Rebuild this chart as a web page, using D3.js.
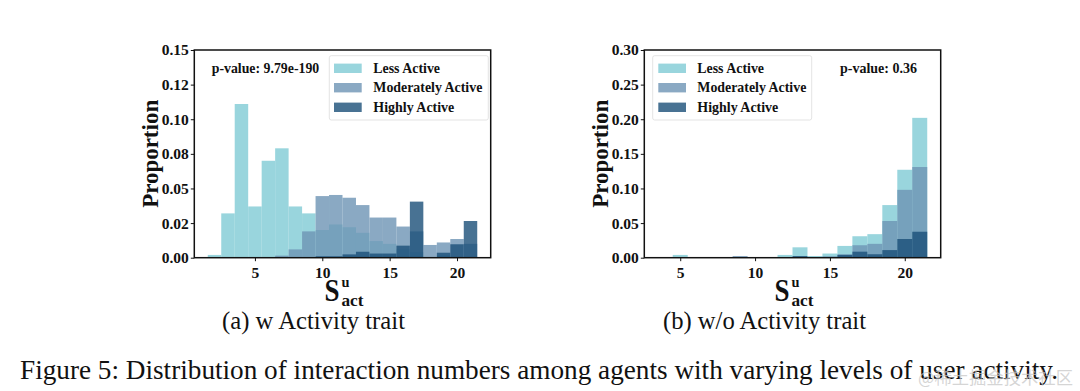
<!DOCTYPE html>
<html>
<head>
<meta charset="utf-8">
<script src="https://cdn.jsdelivr.net/npm/d3@7/dist/d3.min.js"></script>
<style>
  html, body { margin: 0; padding: 0; background: #fff; }
  svg { display: block; }
</style>
</head>
<body>
<svg id="chart" width="1080" height="391"></svg>
<script>
// ---------------- DATA ----------------
const seriesNames = ["Less Active", "Moderately Active", "Highly Active"];

// Panel (a): w Activity trait — bin centres 2..21
const binsA = [2,3,4,5,6,7,8,9,10,11,12,13,14,15,16,17,18,19,20,21];
const lessA     = [0.002,0.032,0.111,0.037,0.070,0.079,0.037,0.032,0.020,0.024,0.022,0.018,0.012,0.010,0.006,0.004,0.000,0.002,0.000,0.000];
const moderateA = [0.000,0.000,0.000,0.000,0.000,0.0015,0.006,0.019,0.0445,0.0453,0.0433,0.038,0.029,0.029,0.0225,0.019,0.0092,0.011,0.0135,0.010];
const highlyA   = [0.000,0.000,0.000,0.000,0.000,0.000,0.000,0.000,0.001,0.001,0.0024,0.0043,0.003,0.003,0.0087,0.0405,0.000,0.0036,0.0097,0.0265];
const yTicksA = [0, 0.025, 0.05, 0.075, 0.1, 0.125, 0.15];
const yTickLabelsA = ["0.00","0.02","0.05","0.08","0.10","0.12","0.15"];
const pValueA = "p-value: 9.79e-190";

// Panel (b): w/o Activity trait — bin centres 4..21
const binsB = [4,5,6,7,8,9,10,11,12,13,14,15,16,17,18,19,20,21];
const lessB     = [0.000,0.004,0.000,0.000,0.000,0.000,0.000,0.000,0.004,0.015,0.0024,0.006,0.017,0.031,0.034,0.076,0.127,0.202];
const moderateB = [0.000,0.000,0.000,0.000,0.000,0.0024,0.001,0.000,0.000,0.000,0.000,0.002,0.005,0.018,0.020,0.053,0.098,0.131];
const highlyB   = [0.000,0.000,0.000,0.000,0.000,0.000,0.000,0.000,0.000,0.0024,0.000,0.001,0.004,0.0087,0.005,0.011,0.027,0.0375];
const yTicksB = [0, 0.05, 0.1, 0.15, 0.2, 0.25, 0.3];
const yTickLabelsB = ["0.00","0.05","0.10","0.15","0.20","0.25","0.30"];
const pValueB = "p-value: 0.36";

const xTicks = [5, 10, 15, 20];
const xTickLabels = ["5", "10", "15", "20"];
const subCaptionA = "(a) w Activity trait";
const subCaptionB = "(b) w/o Activity trait";
const caption = "Figure 5: Distribution of interaction numbers among agents with varying levels of user activity.";
const watermark = "@稀土掘金技术社区";

// ---------------- STYLE ----------------
const colors = ["#80cbd4", "#6d93b4", "#1a4f78"];
const barOpacity = 0.8;
const serif = "'Liberation Serif', 'Times New Roman', Times, serif";

const svg = d3.select("#chart");

function txt(g, s, x, y, opts) {
  const t = g.append("text").attr("x", x).attr("y", y).text(s)
    .attr("font-family", serif)
    .attr("font-size", opts.size)
    .attr("font-weight", opts.bold ? "bold" : "normal")
    .attr("fill", opts.fill || "#111")
    .attr("text-anchor", opts.anchor || "start");
  if (opts.len) t.attr("textLength", opts.len).attr("lengthAdjust", "spacingAndGlyphs");
  if (opts.transform) t.attr("transform", opts.transform);
  return t;
}

function panel(cfg) {
  const g = svg.append("g");
  const x = d3.scaleLinear().domain(cfg.xDomain).range([cfg.left, cfg.right]);
  const y = d3.scaleLinear().domain([0, cfg.yMax]).range([cfg.bottom, cfg.top]);

  const seriesVals = [cfg.less, cfg.moderate, cfg.highly];
  seriesVals.forEach((vals, si) => {
    g.append("g").selectAll("rect")
      .data(cfg.bins.map((b, i) => ({ b, v: vals[i] })).filter(d => d.v > 0))
      .join("rect")
      .attr("x", d => x(d.b - 0.5))
      .attr("width", d => x(d.b + 0.5) - x(d.b - 0.5))
      .attr("y", d => y(d.v))
      .attr("height", d => y(0) - y(d.v))
      .attr("fill", colors[si])
      .attr("fill-opacity", barOpacity);
  });

  // axes
  const xAxis = d3.axisBottom(x).tickValues(xTicks).tickFormat((d, i) => xTickLabels[i]).tickSizeOuter(0).tickSize(3.5).tickPadding(2);
  const gx = g.append("g").attr("transform", `translate(0,${cfg.bottom})`).call(xAxis);
  const yAxis = d3.axisLeft(y).tickValues(cfg.yTicks).tickFormat((d, i) => cfg.yTickLabels[i]).tickSizeOuter(0).tickSize(3.5).tickPadding(2);
  const gy = g.append("g").attr("transform", `translate(${cfg.left},0)`).call(yAxis);
  [gx, gy].forEach(a => {
    a.select(".domain").remove();
    a.selectAll(".tick line").attr("stroke", "#111").attr("stroke-width", 1);
    a.selectAll(".tick text").attr("font-family", serif).attr("font-size", 15.5)
      .attr("font-weight", "bold").attr("fill", "#111");
  });
  gx.selectAll(".tick text").attr("dy", "0.95em");

  // frame
  g.append("rect").attr("x", cfg.left).attr("y", cfg.top)
    .attr("width", cfg.right - cfg.left).attr("height", cfg.bottom - cfg.top)
    .attr("fill", "none").attr("stroke", "#111").attr("stroke-width", 1.5);

  // y label
  const cy = (cfg.top + cfg.bottom) / 2;
  txt(g, "Proportion", 0, 0, { size: 24, bold: true, anchor: "middle", len: 108,
    transform: `translate(${cfg.left - 36},${cy}) rotate(-90)` });

  // x label S^u_act
  const cx = (cfg.left + cfg.right) / 2;
  txt(g, "S", cx - 18, 301, { size: 32, bold: true, len: 15 });
  txt(g, "u", cx - 1, 287, { size: 15, bold: true, len: 8 });
  txt(g, "act", cx - 1, 305.5, { size: 16, bold: true, len: 22 });

  // legend
  const L = cfg.legend;
  g.append("rect").attr("x", L.x).attr("y", L.y).attr("width", L.w).attr("height", L.h)
    .attr("rx", 2).attr("fill", "#fff").attr("fill-opacity", 0.8)
    .attr("stroke", "#dcdcdc").attr("stroke-width", 0.8);
  const rowsY = [68.3, 87.7, 107.3];
  const lens = [66.7, 109, 81];
  seriesNames.forEach((s, i) => {
    g.append("rect").attr("x", L.px).attr("y", rowsY[i] - 4.7).attr("width", 27.7).attr("height", 9.4)
      .attr("fill", colors[i]).attr("fill-opacity", barOpacity);
    txt(g, s, L.tx, rowsY[i] + 4.5, { size: 14, bold: true, len: lens[i] });
  });

  // p-value
  txt(g, cfg.pText, cfg.pX, 72.5, { size: 14, bold: true, len: cfg.pLen });

  // sub caption
  txt(g, cfg.sub, cfg.subX, 329, { size: 25, len: cfg.subLen });
}

panel({
  left: 194.3, right: 490.7, top: 50, bottom: 257.7,
  xDomain: [0.5, 22.5], yMax: 0.15,
  bins: binsA, less: lessA, moderate: moderateA, highly: highlyA,
  yTicks: yTicksA, yTickLabels: yTickLabelsA,
  legend: { x: 329.3, y: 55.7, w: 159, h: 64.3, px: 334, tx: 373.3 },
  pText: pValueA, pX: 211.7, pLen: 107.6,
  sub: subCaptionA, subX: 222, subLen: 183
});

panel({
  left: 644.3, right: 940.7, top: 50, bottom: 257.7,
  xDomain: [2.6, 22.4], yMax: 0.30,
  bins: binsB, less: lessB, moderate: moderateB, highly: highlyB,
  yTicks: yTicksB, yTickLabels: yTickLabelsB,
  legend: { x: 652.7, y: 55.7, w: 159, h: 64.3, px: 658.3, tx: 697.3 },
  pText: pValueB, pX: 840, pLen: 77,
  sub: subCaptionB, subX: 663, subLen: 203
});

// caption
txt(svg, caption, 20, 379, { size: 27, len: 1038 });

// watermark (overlays the end of the caption, as in the source image)
svg.append("text").attr("x", 918).attr("y", 384).text(watermark)
  .attr("font-family", "'Noto Sans CJK SC', sans-serif").attr("font-size", 17)
  .attr("fill", "#c8c8c8").attr("fill-opacity", 0.75)
  .attr("textLength", 155).attr("lengthAdjust", "spacingAndGlyphs");
</script>
</body>
</html>
